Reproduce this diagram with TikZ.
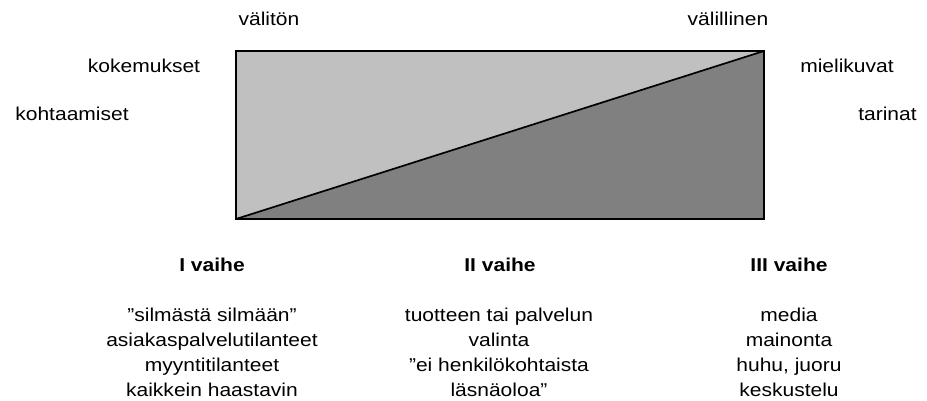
\documentclass[tikz,border=0pt]{standalone}
\usepackage{fontspec}
\setmainfont[FakeStretch=1.13]{Liberation Sans}
\definecolor{lightg}{HTML}{C0C0C0}
\definecolor{darkg}{HTML}{808080}
\tikzset{
  lbl/.style={anchor=base, inner sep=0pt, font=\fontsize{18.6}{25}\selectfont, align=center},
  head/.style={lbl, font=\fontsize{18.6}{25}\selectfont\bfseries},
  edge/.style={line width=1.7pt, line join=miter}
}
\begin{document}
\begin{tikzpicture}[x=1pt, y=-1pt]
\useasboundingbox (0,0) rectangle (927,401);
\coordinate (bl) at (236,219);
\coordinate (br) at (764,219);
\coordinate (tr) at (764,51);
\coordinate (tl) at (236,51);
\fill[lightg] (tl) -- (tr) -- (bl) -- cycle;
\fill[darkg] (bl) -- (br) -- (tr) -- cycle;
\draw[edge] (bl) -- (tr);
\draw[edge] (tl) rectangle (br);

\node[lbl] (valiton) at (269,25.5) {välitön};
\node[lbl] (valillinen) at (728,25.5) {välillinen};
\node[lbl] (kokemukset) at (144,72.5) {kokemukset};
\node[lbl] (kohtaamiset) at (72,121) {kohtaamiset};
\node[lbl] (mielikuvat) at (847,72.5) {mielikuvat};
\node[lbl] (tarinat) at (887.5,121) {tarinat};

\node[head] (v1) at (212,271.5) {I vaihe};
\node[head] (v2) at (500,271.5) {II vaihe};
\node[head] (v3) at (789,271.5) {III vaihe};

% base anchor of a multi-line node is the baseline of its last line
\node[lbl] (t1) at (212,396.7) {”silmästä silmään”\\asiakaspalvelutilanteet\\myyntitilanteet\\kaikkein haastavin};
\node[lbl] (t2) at (499,396.7) {tuotteen tai palvelun\\valinta\\”ei henkilökohtaista\\läsnäoloa”};
\node[lbl] (t3) at (789,396.7) {media\\mainonta\\huhu, juoru\\keskustelu};
\end{tikzpicture}
\end{document}
